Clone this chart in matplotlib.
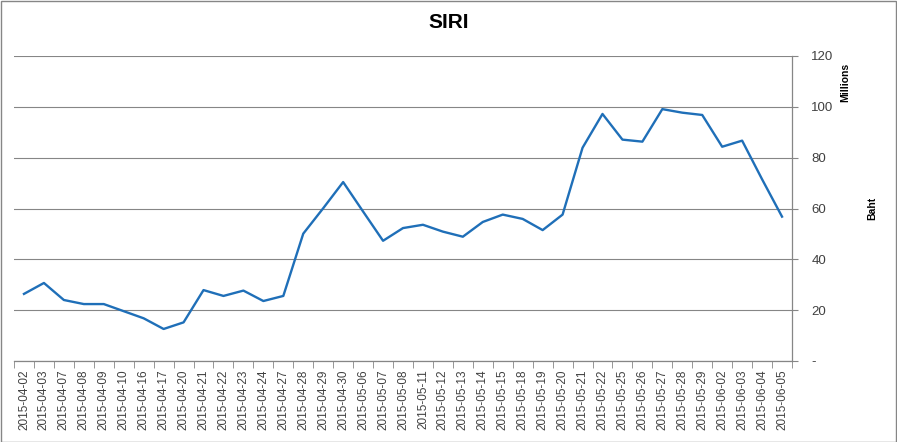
import matplotlib
matplotlib.use("Agg")
import matplotlib.pyplot as plt
from matplotlib.patches import Rectangle
from matplotlib.ticker import FuncFormatter, FixedLocator

plt.rcParams["font.family"] = ["Liberation Sans", "DejaVu Sans"]

dates = [
    "2015-04-02", "2015-04-03", "2015-04-07", "2015-04-08", "2015-04-09",
    "2015-04-10", "2015-04-16", "2015-04-17", "2015-04-20", "2015-04-21",
    "2015-04-22", "2015-04-23", "2015-04-24", "2015-04-27", "2015-04-28",
    "2015-04-29", "2015-04-30", "2015-05-06", "2015-05-07", "2015-05-08",
    "2015-05-11", "2015-05-12", "2015-05-13", "2015-05-14", "2015-05-15",
    "2015-05-18", "2015-05-19", "2015-05-20", "2015-05-21", "2015-05-22",
    "2015-05-25", "2015-05-26", "2015-05-27", "2015-05-28", "2015-05-29",
    "2015-06-02", "2015-06-03", "2015-06-04", "2015-06-05",
]
# traded value, millions of baht
values = [
    26.4, 30.7, 24.0, 22.4, 22.4, 19.6, 16.8, 12.6, 15.2, 27.9,
    25.6, 27.7, 23.6, 25.6, 50.1, 60.1, 70.4, 58.8, 47.3, 52.3,
    53.6, 50.9, 48.9, 54.7, 57.6, 55.9, 51.5, 57.6, 83.9, 97.2,
    87.1, 86.3, 99.1, 97.7, 96.8, 84.3, 86.7, 71.5, 56.8,
]
y_ticks = [0, 20, 40, 60, 80, 100, 120]

grey = "#868686"

fig = plt.figure(figsize=(8.97, 4.42), dpi=100)
ax = fig.add_axes([14 / 897, 81 / 442, 778 / 897, 305 / 442])

x = range(len(values))
ax.plot(x, values, color="#1f6fb8", lw=1.7, zorder=3)

ax.set_xlim(-0.5, len(values) - 0.5)
ax.set_ylim(0, 120)

# right-hand value axis, Excel style
ax.yaxis.tick_right()
ax.set_yticks(y_ticks)
ax.yaxis.set_major_formatter(FuncFormatter(lambda v, p: "-" if v == 0 else f"{v:.0f}"))
ax.tick_params(axis="y", length=4, color=grey, labelsize=9.5, labelcolor="#404040", pad=10)
ax.grid(axis="y", color=grey, lw=0.8)
ax.set_axisbelow(True)

# category labels centered, tick marks at boundaries
ax.set_xticks(list(x))
ax.set_xticklabels(dates, rotation=90, fontsize=8.5, color="#404040")
ax.tick_params(axis="x", which="major", length=0, pad=6)
ax.xaxis.set_minor_locator(FixedLocator([i - 0.5 for i in range(len(values) + 1)]))
ax.tick_params(axis="x", which="minor", length=5, color=grey)

for side in ["left", "top"]:
    ax.spines[side].set_visible(False)
for side in ["right", "bottom"]:
    ax.spines[side].set_color(grey)
    ax.spines[side].set_linewidth(0.9)

fig.text(0.5, 0.95, "SIRI", ha="center", va="center", fontsize=15, fontweight="bold")
fig.text(845 / 897, 1 - 82 / 442, "Millions", rotation=90, ha="center", va="center",
         fontsize=7.5, fontweight="bold")
fig.text(872 / 897, 1 - 208 / 442, "Baht", rotation=90, ha="center", va="center",
         fontsize=7.5, fontweight="bold")

fig.patches.append(Rectangle((0.5 / 897, 0.5 / 442), 1 - 1.5 / 897, 1 - 1.5 / 442,
                             transform=fig.transFigure, fill=False, edgecolor=grey, lw=1))

fig.savefig("out.png", dpi=100)
